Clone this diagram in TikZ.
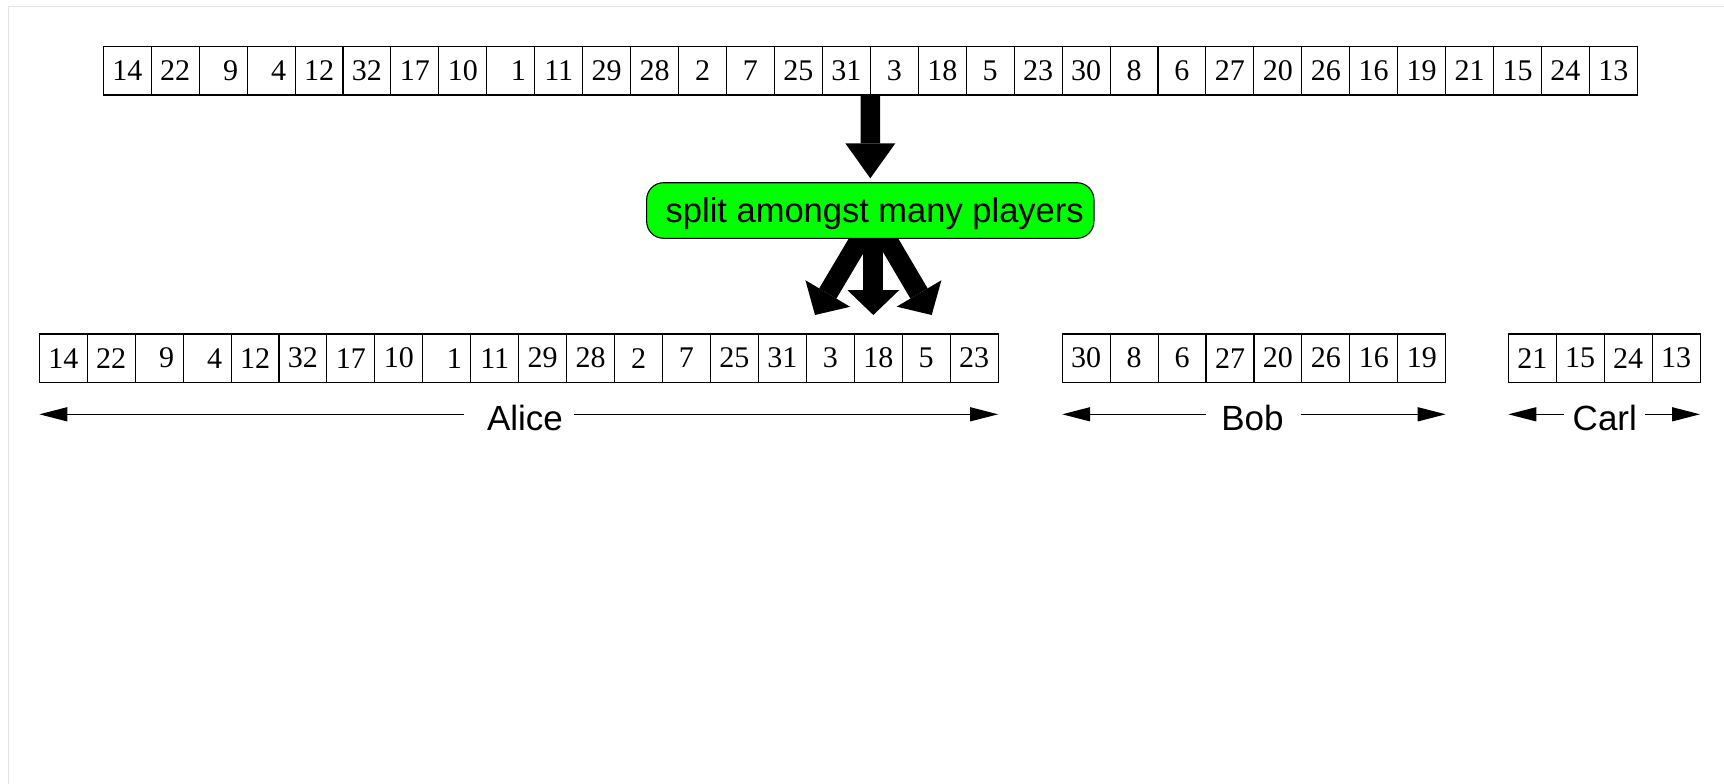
\documentclass[tikz,border=0pt]{standalone}
\usepackage{fontspec}
\setmainfont{Liberation Serif}
\setsansfont{Liberation Sans}
\usetikzlibrary{arrows.meta,backgrounds,calc}

\definecolor{splitgreen}{RGB}{0,255,0}
\definecolor{framegray}{RGB}{228,228,228}

% a single-digit value set in the place of the units digit of a two-digit one
\newcommand\pad[1]{\hphantom{0}#1}

% a row of square cells: name prefix, left edge, centre line, values
\newcommand\cellrow[4]{%
  \foreach \v [count=\i] in {#4} {%
    \node[cellbox] (#1\i) at ({#2+(\i-0.5)*47.94},#3) {\v};%
  }%
}

\tikzset{
  cellbox/.style={draw, line width=1.1pt, minimum width=47.94pt,
    minimum height=48.3pt, inner sep=0pt, outer sep=0pt,
    font=\fontsize{30}{30}\selectfont},
  splitbox/.style={draw, fill=splitgreen, line width=1.1pt,
    rounded corners=17pt, minimum width=447.3pt, minimum height=55.6pt,
    inner sep=0pt, outer sep=0pt, text height=26pt, text depth=1.5pt,
    font=\sffamily\fontsize{34.5}{34.5}\selectfont},
  who/.style={font=\sffamily\fontsize{35}{35}\selectfont, anchor=base,
    inner sep=0pt, outer sep=0pt},
  span/.style={line width=1.3pt, -{Triangle[length=28pt,width=14pt]}},
  fatin/.style={line width=19.4pt,
    -{Triangle[length=35pt,width=50pt,line width=0pt]}},
  fatout/.style={line width=20pt,
    -{Triangle[length=25pt,width=52pt,line width=0pt]}},
}

\begin{document}
\begin{tikzpicture}[x=1pt,y=-1pt]
  \useasboundingbox (0,0) rectangle (1724,784);

  % page frame
  \draw[framegray, line width=1.3pt] (8.3,784) -- (8.3,6.7) -- (1724,6.7);

  % the full sequence
  \cellrow{t}{103.3}{70.85}{14,22,\pad{9},\pad{4},12,32,17,10,\pad{1},11,29,28,2,7,25,31,3,18,5,23,30,8,6,27,20,26,16,19,21,15,24,13}

  % the three shares
  \cellrow{a}{39.3}{358.15}{14,22,\pad{9},\pad{4},12,32,17,10,\pad{1},11,29,28,2,7,25,31,3,18,5,23}
  \cellrow{b}{1062.2}{358.15}{30,8,6,27,20,26,16,19}
  \cellrow{c}{1508.3}{358.15}{21,15,24,13}

  % splitting step
  \node[splitbox] (split) at (870.3,210.5) {\hspace*{8.8pt}split amongst many players};
  \draw[fatin] (t16.south east) -- ([yshift=4.4pt]split.north);

  \coordinate (tipL) at (815,315);
  \coordinate (tipM) at (873.3,315);
  \coordinate (tipR) at (931.7,315);
  \begin{scope}[on background layer]
    \draw[fatout] ([xshift=-5pt,yshift=8pt]split.south) -- (tipL);
    \draw[fatout] ([xshift=3pt,yshift=8pt]split.south) -- (tipM);
    \draw[fatout] ([xshift=11.5pt,yshift=8pt]split.south) -- (tipR);
  \end{scope}

  % player spans
  \coordinate (lbl) at (0,414.3);
  \node[who] (alice) at (525,430) {Alice};
  \node[who] (bob) at (1252.5,430) {Bob};
  \node[who] (carl) at (1604.8,430) {Carl};

  \draw[span] ($(alice.west |- lbl)+(-23,0)$) -- (a1.west |- lbl);
  \draw[span] ($(alice.east |- lbl)+(11,0)$) -- (a20.east |- lbl);
  \draw[span] ($(bob.west |- lbl)+(-15,0)$) -- (b1.west |- lbl);
  \draw[span] ($(bob.east |- lbl)+(17,0)$) -- (b8.east |- lbl);
  \draw[span] ($(carl.west |- lbl)+(-9,0)$) -- (c1.west |- lbl);
  \draw[span] ($(carl.east |- lbl)+(8,0)$) -- (c4.east |- lbl);
\end{tikzpicture}
\end{document}
